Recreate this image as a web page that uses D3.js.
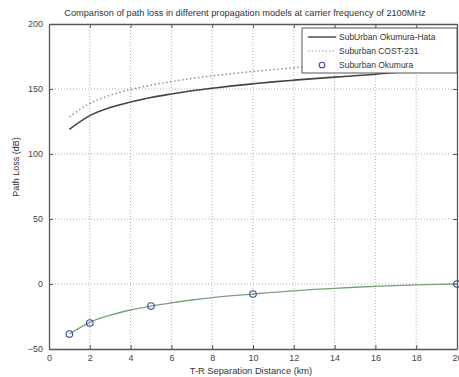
<!DOCTYPE html>
<html>
<head>
<meta charset="utf-8">
<script src="https://cdn.jsdelivr.net/npm/d3@7"></script>
<style>
  body { margin: 0; background: #fff; }
  svg { display: block; font-family: "Liberation Sans", Arial, sans-serif; }
</style>
</head>
<body>
<svg id="chart" width="459" height="377"></svg>
<script>
// distances (km)
const distance = [1, 2, 3, 4, 5, 6, 7, 8, 9, 10, 11, 12, 13, 14, 15, 16, 17, 18, 19, 20];
// path loss (dB)
const hataLoss = [119, 129.5, 135.7, 140, 143.5, 146.2, 148.6, 150.6, 152.4, 154, 155.5, 156.8, 158, 159.1, 160.2, 161.3, 162.8, 164, 165, 166];
const costLoss = [128.5, 139, 145.2, 149.6, 153, 155.7, 158.1, 160.1, 161.9, 163.5, 164.9, 166.3, 167.5, 168.6, 169.7, 170.6, 171.5, 172.4, 173.2, 174];
const okumuraCurve = [-38.5, -29.5, -24, -20, -17, -14.5, -12.3, -10.5, -9, -7.7, -6.5, -5.3, -4.2, -3.3, -2.5, -1.8, -1.2, -0.7, -0.3, 0];
const okumuraDist = [1, 2, 5, 10, 20];
const okumuraLoss = [-38.5, -30, -17, -7.7, 0];

const xTicks = [0, 2, 4, 6, 8, 10, 12, 14, 16, 18, 20];
const yTicks = [-50, 0, 50, 100, 150, 200];
const legendLabels = ["SubUrban Okumura-Hata", "Suburban COST-231", "Suburban Okumura"];

const svg = d3.select("#chart");
const m = { left: 49, right: 457, top: 24, bottom: 349 };

const x = d3.scaleLinear().domain([0, 20]).range([m.left, m.right]);
const y = d3.scaleLinear().domain([-50, 200]).range([m.bottom, m.top]);

svg.append("rect").attr("width", 459).attr("height", 377).attr("fill", "#fff");

// grid
const grid = svg.append("g").attr("stroke", "#9a9a9a").attr("stroke-width", 0.8).attr("stroke-dasharray", "1,2");
grid.selectAll(".gx").data(xTicks.slice(1, -1)).join("line")
    .attr("x1", d => x(d)).attr("x2", d => x(d))
    .attr("y1", m.top).attr("y2", m.bottom);
grid.selectAll(".gy").data(yTicks.slice(1, -1)).join("line")
    .attr("y1", d => y(d)).attr("y2", d => y(d))
    .attr("x1", m.left).attr("x2", m.right);

// axes with inward ticks
const xAxis = svg.append("g").attr("transform", `translate(0,${m.bottom})`)
    .call(d3.axisBottom(x).tickValues(xTicks).tickSizeInner(-4).tickSizeOuter(0).tickPadding(6));
const xTop = svg.append("g").attr("transform", `translate(0,${m.top})`)
    .call(d3.axisTop(x).tickValues(xTicks).tickSizeInner(-4).tickSizeOuter(0).tickFormat(""));
const yAxis = svg.append("g").attr("transform", `translate(${m.left},0)`)
    .call(d3.axisLeft(y).tickValues(yTicks).tickSizeInner(-4).tickSizeOuter(0).tickPadding(6));
const yRight = svg.append("g").attr("transform", `translate(${m.right},0)`)
    .call(d3.axisRight(y).tickValues(yTicks).tickSizeInner(-4).tickSizeOuter(0).tickFormat(""));

[xAxis, xTop, yAxis, yRight].forEach(a => {
    a.select(".domain").attr("stroke", "#555").attr("stroke-width", 1.3);
    a.selectAll(".tick line").attr("stroke", "#555");
    a.selectAll("text").attr("font-size", 9).attr("fill", "#444").attr("font-family", "Liberation Sans, Arial, sans-serif");
});

// curves
const line = d3.line().x((d, i) => x(distance[i])).y(d => y(d)).curve(d3.curveMonotoneX);

svg.append("path").datum(costLoss).attr("d", line)
    .attr("fill", "none").attr("stroke", "#888").attr("stroke-width", 1.4).attr("stroke-dasharray", "1.5,2.5");
svg.append("path").datum(hataLoss).attr("d", line)
    .attr("fill", "none").attr("stroke", "#444").attr("stroke-width", 1.6);
svg.append("path").datum(okumuraCurve).attr("d", line)
    .attr("fill", "none").attr("stroke", "#76a278").attr("stroke-width", 1.3);

svg.selectAll(".ok").data(okumuraLoss).join("circle")
    .attr("cx", (d, i) => x(okumuraDist[i])).attr("cy", d => y(d)).attr("r", 3.3)
    .attr("fill", "none").attr("stroke", "#3d4a94").attr("stroke-width", 1.1);

// legend
const lg = svg.append("g");
lg.append("rect").attr("x", 302).attr("y", 28).attr("width", 155).attr("height", 45)
    .attr("fill", "#fff").attr("stroke", "#555").attr("stroke-width", 1);
const rowY = [37, 51, 65];
lg.append("line").attr("x1", 308).attr("x2", 336).attr("y1", rowY[0]).attr("y2", rowY[0])
    .attr("stroke", "#444").attr("stroke-width", 1.4);
lg.append("line").attr("x1", 308).attr("x2", 336).attr("y1", rowY[1]).attr("y2", rowY[1])
    .attr("stroke", "#999").attr("stroke-width", 1.2).attr("stroke-dasharray", "1.5,2");
lg.append("circle").attr("cx", 322).attr("cy", rowY[2]).attr("r", 2.8)
    .attr("fill", "none").attr("stroke", "#3d4a94").attr("stroke-width", 1.1);
lg.selectAll("text").data(legendLabels).join("text")
    .attr("x", 339).attr("y", (d, i) => rowY[i] + 3)
    .attr("font-size", 8.5).attr("fill", "#333").text(d => d);

// titles
svg.append("text").attr("x", 245).attr("y", 16).attr("text-anchor", "middle")
    .attr("font-size", 9.2).attr("fill", "#333")
    .text("Comparison of path loss in different propagation models at carrier frequency of 2100MHz");
svg.append("text").attr("x", 251).attr("y", 374).attr("text-anchor", "middle")
    .attr("font-size", 9.3).attr("fill", "#333").text("T-R Separation Distance (km)");
svg.append("text").attr("transform", "translate(19,167) rotate(-90)").attr("text-anchor", "middle")
    .attr("font-size", 9).attr("fill", "#333").text("Path Loss (dB)");
</script>
</body>
</html>
